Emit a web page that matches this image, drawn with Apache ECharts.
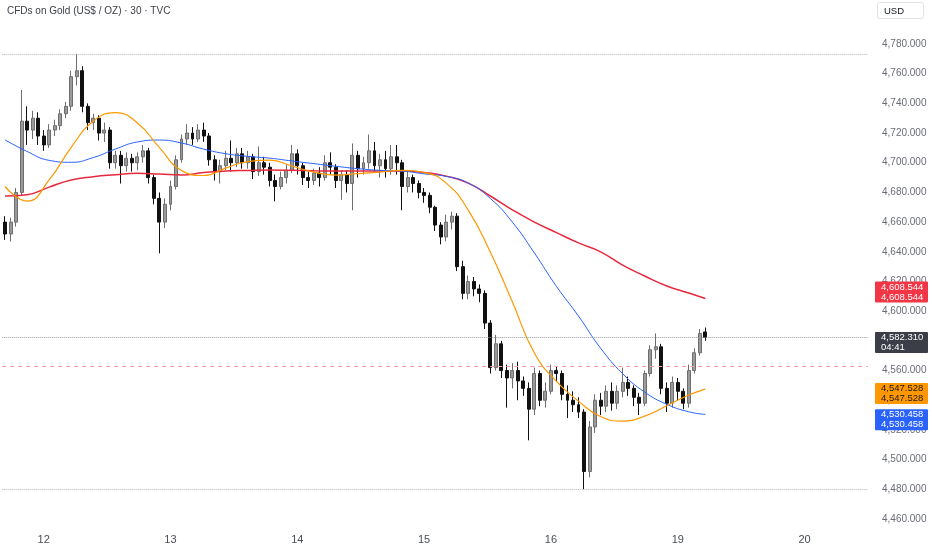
<!DOCTYPE html>
<html><head><meta charset="utf-8">
<script src="https://cdn.jsdelivr.net/npm/echarts@6/dist/echarts.min.js"></script>
<style>html,body{margin:0;padding:0;background:#fff}#c{width:932px;height:550px}</style>
</head><body><div id="c"></div>
<script>
// ---- Data (hourly-equivalent candles) ----
const opens = [4660,4652,4660,4680,4728,4722,4730,4718,4712,4722,4725,4733,4738,4758,4762,4738,4727,4730,4720,4722,
4700,4705,4698,4703,4700,4704,4708,4690,4676,4660,4672,4684,4702,4716,4720,4716,4722,4718,4702,4694,
4698,4703,4700,4706,4700,4704,4694,4700,4697,4688,4684,4690,4695,4706,4698,4690,4688,4693,4690,4700,
4697,4688,4692,4686,4705,4696,4700,4708,4698,4702,4696,4704,4700,4684,4690,4686,4680,4678,4670,4658,
4650,4660,4664,4630,4612,4620,4615,4612,4592,4562,4578,4560,4555,4560,4553,4548,4534,4558,4540,4546,
4560,4558,4544,4540,4537,4532,4492,4522,4540,4536,4546,4538,4546,4552,4548,4542,4538,4558,4574,4576,
4548,4538,4552,4546,4538,4560,4572,4586];
const closes = [4652,4660,4680,4728,4722,4730,4718,4712,4722,4725,4733,4738,4758,4762,4738,4727,4730,4720,4722,4700,
4705,4698,4703,4700,4704,4708,4690,4676,4660,4672,4684,4702,4716,4720,4716,4722,4718,4702,4694,4698,
4703,4700,4706,4700,4704,4694,4700,4697,4688,4684,4690,4695,4706,4698,4690,4688,4693,4690,4700,4697,
4688,4692,4686,4705,4696,4700,4708,4698,4702,4696,4704,4700,4684,4690,4686,4680,4678,4670,4658,4650,
4660,4664,4630,4612,4620,4615,4612,4592,4562,4578,4560,4555,4560,4553,4548,4534,4558,4540,4546,4560,
4558,4544,4540,4537,4532,4492,4522,4540,4536,4546,4538,4546,4552,4548,4542,4538,4558,4574,4576,4548,
4538,4552,4546,4538,4560,4572,4585,4582.31];
const lows = [4648,4647,4657,4678,4712,4716,4712,4708,4710,4718,4722,4730,4735,4752,4734,4722,4722,4715,4714,4696,
4696,4686,4694,4694,4695,4700,4686,4672,4639,4656,4668,4682,4700,4712,4712,4714,4714,4698,4688,4686,
4695,4694,4697,4696,4696,4689,4691,4692,4684,4674,4682,4686,4693,4692,4685,4683,4685,4684,4688,4692,
4683,4675,4680,4668,4690,4692,4696,4694,4690,4690,4692,4692,4668,4680,4680,4676,4673,4666,4654,4645,
4647,4655,4627,4608,4608,4610,4606,4588,4558,4560,4555,4535,4548,4540,4543,4513,4530,4536,4535,4544,
4553,4540,4528,4532,4528,4480.1,4488,4518,4530,4532,4533,4534,4542,4543,4536,4530,4536,4556,4568,4544,
4532,4535,4540,4534,4535,4558,4570,4580];
const highs = [4664,4663,4683,4749,4738,4735,4734,4722,4726,4729,4736,4741,4762,4773.4,4765,4740,4733,4732,4727,4724,
4708,4708,4707,4706,4707,4712,4710,4692,4680,4676,4688,4705,4719,4726,4724,4726,4727,4720,4705,4702,
4708,4715,4710,4710,4708,4706,4711,4704,4700,4692,4694,4699,4712,4709,4700,4694,4696,4697,4705,4707,
4699,4695,4695,4713,4708,4704,4719,4714,4706,4708,4712,4712,4702,4694,4692,4688,4683,4680,4671,4660,
4665,4667,4666,4634,4624,4623,4618,4614,4594,4584,4580,4564,4565,4566,4556,4552,4562,4560,4552,4564,
4563,4560,4550,4546,4542,4534,4526,4544,4545,4550,4552,4550,4562,4556,4550,4545,4560,4577,4585,4578,
4552,4556,4555,4548,4564,4575,4588,4589];

// moving averages read at every 4th bar
const maIdx  = [0,4,8,12,16,20,24,28,32,36,40,44,48,52,56,60,64,68,72,76,80,84,88,92,96,100,104,108,112,116,120,124,127];
const maFast = [4684,4674.2,4688.4,4710.4,4728,4733.8,4726.8,4710.2,4694.8,4691.4,4696.4,4700.8,4701.8,4697.8,4693.7,4691.7,4692.7,4693.7,4694.8,4693.4,4686.3,4668.1,4639.8,4606.3,4571.8,4552.7,4539.4,4529,4526,4529.3,4536.3,4543.5,4547.528];
const maMid  = [4715.4,4707.6,4701.6,4700.3,4703.5,4709.2,4714,4715.3,4713.3,4709.2,4706.1,4704.3,4703.1,4701.2,4699.4,4697.6,4696,4694.9,4694.4,4692.5,4690.8,4686.3,4676,4660,4639.2,4616.7,4596.7,4575.1,4557.9,4545.5,4537.3,4532.2,4530.458];
const maSlow = [4677.6,4678.5,4683.6,4688.4,4690.6,4691.9,4692.9,4692.4,4691.7,4693.4,4694.4,4694.8,4695.1,4694.9,4694.6,4694.4,4694.4,4694.4,4694.4,4693.4,4691,4686.3,4677.6,4668.3,4660,4652.9,4646,4640,4631,4623.7,4617,4612.2,4608.544];

const tradingDays = ['12','13','14','15','16','19'];
const lastPrice = 4582.31;
const countdown = '04:41';
const prevClose = 4563.0;
const titleText = 'CFDs on Gold (US$ / OZ) · 30 · TVC';
const currency = 'USD';

// ---- categories (bar timestamps) ----
const pad = h => (h < 10 ? '0' : '') + h + ':00';
const categories = [];
for (let h = 16; h <= 22; h++) categories.push('11 ' + pad(h));
tradingDays.forEach(d => { for (let h = 0; h < 23; h++) categories.push(d + ' ' + pad(h)); });
for (let h = 0; h < 12; h++) categories.push('20 ' + pad(h));

const candles = opens.map((o, i) => [o, closes[i], lows[i], highs[i]]);
function maSeries(vals) {
  const arr = new Array(opens.length).fill(null);
  maIdx.forEach((idx, k) => { arr[idx] = vals[k]; });
  return arr;
}
const fmt = v => v.toLocaleString('en-US', {minimumFractionDigits: 3, maximumFractionDigits: 3});
const hi = Math.max(...highs), lo = Math.min(...lows);

const chart = echarts.init(document.getElementById('c'), null, {renderer: 'canvas'});
const lineDot = {color: '#b2b5be', type: 'dotted', width: 1};
chart.setOption({
  animation: false,
  backgroundColor: '#ffffff',
  grid: {left: 2.3, right: 64, top: -15.375, height: 564.06, containLabel: false, outerBoundsMode: 'none'},
  xAxis: {
    type: 'category', data: categories, boundaryGap: true, offset: -16,
    axisLine: {show: false}, axisTick: {show: false}, splitLine: {show: false},
    axisLabel: {
      margin: 2, color: '#4a4d57', fontSize: 11, fontFamily: 'Liberation Sans',
      interval: (idx, val) => val.endsWith(' 00:00'),
      formatter: v => v.split(' ')[0]
    }
  },
  yAxis: {
    type: 'value', position: 'right', min: 4440, max: 4820, interval: 20,
    axisLine: {show: false}, axisTick: {show: false}, splitLine: {show: false},
    axisLabel: {
      margin: 14, color: '#6a6d78', fontSize: 10, fontFamily: 'Liberation Sans', align: 'left',
      formatter: v => (v >= 4460 && v <= 4780) ? fmt(v) : ''
    }
  },
  series: [
    {
      type: 'candlestick', data: candles, barWidth: '62%',
      itemStyle: {color: '#9a9a9a', borderColor: '#6e6e6e', color0: '#111111', borderColor0: '#111111', borderWidth: 1},
      markLine: {
        symbol: ['none', 'none'], silent: true, animation: false, label: {show: false},
        data: [
          {yAxis: hi, lineStyle: lineDot},
          {yAxis: lo, lineStyle: lineDot},
          {yAxis: lastPrice, lineStyle: {color: '#9598a1', type: 'dotted', width: 1}},
          {yAxis: prevClose, lineStyle: {color: '#f4a3ad', type: [4, 4], width: 1}}
        ]
      },
      z: 3
    },
    {type: 'line', data: maSeries(maSlow), smooth: true, connectNulls: true, symbol: 'none', lineStyle: {color: '#e8283f', width: 1.5}, z: 4},
    {type: 'line', data: maSeries(maMid), smooth: true, connectNulls: true, symbol: 'none', lineStyle: {color: '#2962ff', width: 1}, z: 4},
    {type: 'line', data: maSeries(maFast), smooth: true, connectNulls: true, symbol: 'none', lineStyle: {color: '#ff9800', width: 1.2}, z: 4}
  ]
});

// ---- price-scale tags positioned via the y axis ----
const tags = [
  {v: maSlow[maSlow.length - 1], lines: [fmt(maSlow[maSlow.length - 1]), fmt(maSlow[maSlow.length - 1])], bg: '#f23645', fg: '#ffffff', shift: -6.4},
  {v: lastPrice, lines: [fmt(lastPrice), countdown], bg: '#3b3e47', fg: '#ffffff', shift: 5},
  {v: maFast[maFast.length - 1], lines: [fmt(maFast[maFast.length - 1]), fmt(maFast[maFast.length - 1])], bg: '#ff9800', fg: '#1a1a1a', shift: 4.5},
  {v: maMid[maMid.length - 1], lines: [fmt(maMid[maMid.length - 1]), fmt(maMid[maMid.length - 1])], bg: '#2962ff', fg: '#ffffff', shift: 5.4}
];
const graphics = [
  {type: 'text', z: 100, style: {text: titleText, x: 7, y: 11, verticalAlign: 'middle', font: '10px "Liberation Sans"', fill: '#3d404a'}},
  {type: 'rect', z: 100, shape: {x: 877.5, y: 2.5, width: 46, height: 16, r: 2}, style: {fill: '#ffffff', stroke: '#e0e3eb', lineWidth: 1}},
  {type: 'text', z: 101, style: {text: currency, x: 884, y: 11, verticalAlign: 'middle', font: '9.5px "Liberation Sans"', fill: '#131722'}}
];
tags.forEach(t => {
  const cy = chart.convertToPixel({yAxisIndex: 0}, t.v) + t.shift;
  graphics.push({type: 'rect', z: 100, shape: {x: 875, y: cy - 10.5, width: 53, height: 21, r: 1}, style: {fill: t.bg}});
  graphics.push({type: 'text', z: 101, style: {text: t.lines.join('\n'), x: 881, y: cy, verticalAlign: 'middle', lineHeight: 10, font: '9.5px "Liberation Sans"', fill: t.fg}});
});
chart.setOption({graphic: graphics});
</script></body></html>
